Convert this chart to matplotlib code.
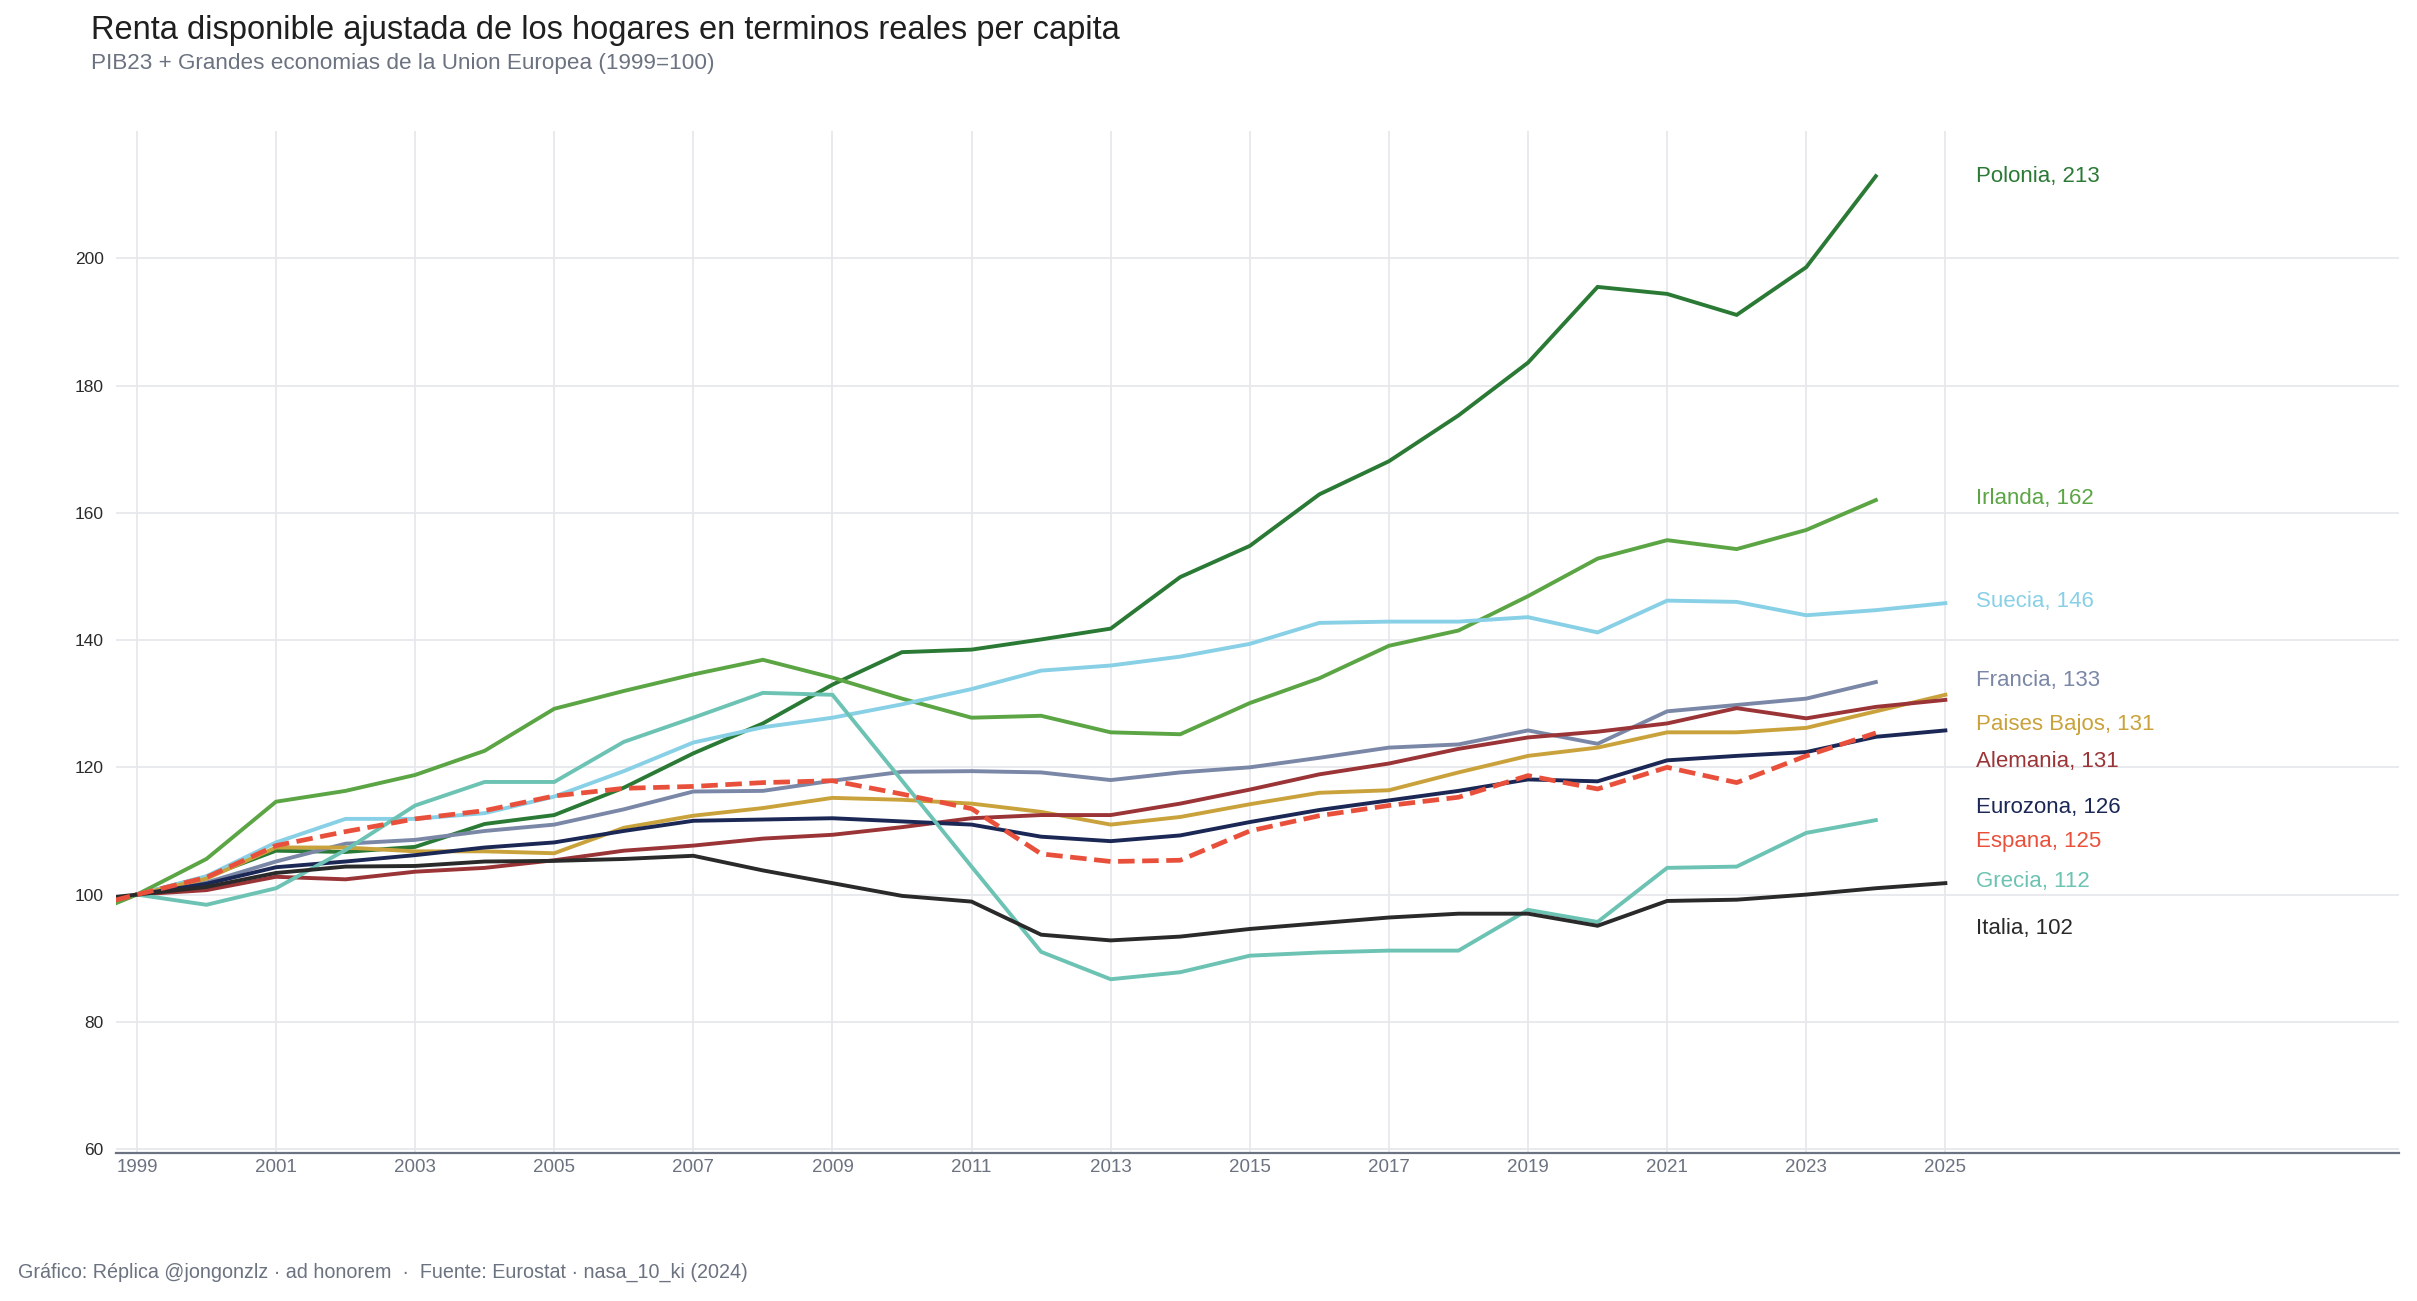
import numpy as np
import matplotlib
matplotlib.use("Agg")
import matplotlib.pyplot as plt

plt.rcParams['font.family'] = ['Liberation Sans', 'DejaVu Sans']

nan = np.nan
years = list(range(1998, 2026))

# indice 1999=100
polonia = [nan, 100, 102.8, 106.9, 106.7, 107.5, 111.1, 112.5, 116.8, 122.2, 126.9, 133.0, 138.1, 138.5,
           140.1, 141.8, 149.9, 154.8, 162.9, 168.1, 175.3, 183.6, 195.5, 194.4, 191.1, 198.6, 212.9, nan]
irlanda = [95.5, 100, 105.6, 114.6, 116.3, 118.8, 122.6, 129.2, 132.0, 134.6, 136.9, 134.1, 130.8, 127.8,
           128.1, 125.5, 125.2, 130.1, 134.0, 139.1, 141.5, 146.9, 152.8, 155.7, 154.3, 157.3, 162.0, nan]
suecia = [nan, 100, 102.9, 108.2, 111.9, 111.9, 112.8, 115.4, 119.4, 123.9, 126.3, 127.8, 129.9, 132.3,
          135.2, 136.0, 137.4, 139.4, 142.7, 142.9, 142.9, 143.6, 141.2, 146.2, 146.0, 143.9, 144.7, 145.8]
francia = [nan, 100, 101.9, 105.2, 108.0, 108.6, 110.0, 111.0, 113.4, 116.2, 116.3, 117.9, 119.3, 119.4,
           119.2, 118.0, 119.2, 120.0, 121.5, 123.1, 123.6, 125.8, 123.7, 128.8, 129.8, 130.8, 133.4, nan]
paises_bajos = [nan, 100, 102.5, 107.4, 107.4, 106.8, 106.8, 106.5, 110.5, 112.4, 113.6, 115.2, 114.9, 114.3,
                113.0, 111.0, 112.2, 114.2, 116.0, 116.4, 119.2, 121.8, 123.1, 125.5, 125.5, 126.2, 128.8, 131.4]
alemania = [nan, 100, 100.7, 102.8, 102.4, 103.6, 104.2, 105.4, 106.9, 107.7, 108.8, 109.4, 110.6, 112.0,
            112.5, 112.5, 114.3, 116.5, 118.9, 120.6, 122.9, 124.7, 125.6, 126.9, 129.3, 127.7, 129.5, 130.6]
eurozona = [nan, 100, 101.7, 104.3, 105.2, 106.2, 107.4, 108.2, 110.0, 111.6, 111.8, 112.0, 111.5, 111.0,
            109.1, 108.4, 109.3, 111.4, 113.3, 114.8, 116.3, 118.1, 117.8, 121.1, 121.8, 122.4, 124.8, 125.8]
espana = [97.2, 100, 102.7, 107.7, 109.9, 111.9, 113.2, 115.5, 116.7, 117.0, 117.6, 117.9, 115.8, 113.5,
          106.4, 105.2, 105.4, 110.0, 112.4, 114.0, 115.3, 118.7, 116.6, 120.0, 117.6, 121.8, 125.4, nan]
grecia = [nan, 100, 98.4, 101.0, 107.0, 114.0, 117.7, 117.7, 124.0, 127.8, 131.7, 131.4, 117.9, 104.4,
          91.0, 86.7, 87.8, 90.4, 90.9, 91.2, 91.2, 97.6, 95.7, 104.2, 104.4, 109.7, 111.7, nan]
italia = [98.8, 100, 101.2, 103.4, 104.4, 104.5, 105.2, 105.3, 105.6, 106.1, 103.8, 101.8, 99.8, 98.9,
          93.7, 92.8, 93.4, 94.6, 95.5, 96.4, 97.0, 97.0, 95.1, 99.0, 99.2, 100.0, 101.0, 101.8]

names = ['Polonia', 'Irlanda', 'Suecia', 'Francia', 'Paises Bajos', 'Alemania',
         'Eurozona', 'Espana', 'Grecia', 'Italia']
series = [polonia, irlanda, suecia, francia, paises_bajos, alemania, eurozona, espana, grecia, italia]
colors = ['#2a7a35', '#5ba544', '#88d0e6', '#7a87a7', '#c9a23b', '#9a3437',
          '#1b2755', '#e9503b', '#6cc3b3', '#2a2a2a']
# posicion vertical de las etiquetas (separadas para que no se pisen)
label_y = [212.8, 162.3, 146.1, 133.7, 126.7, 120.9, 113.7, 108.4, 102.1, 94.6]

fig = plt.figure(figsize=(24.17, 13.01), dpi=100)
ax = fig.add_axes([0.048, 0.1138, 0.9445, 0.7855])

for name, vals, col in zip(names, series, colors):
    if name == 'Espana':
        continue
    ax.plot(years, vals, color=col, lw=2.8, solid_joinstyle='miter', zorder=3)
# Espana encima, discontinua
i = names.index('Espana')
ax.plot(years, series[i], color=colors[i], lw=3.4, dashes=(3.5, 1.6), zorder=4)

for name, vals, col, ly in zip(names, series, colors, label_y):
    arr = np.array(vals, dtype=float)
    last = arr[~np.isnan(arr)][-1]
    ax.text(2025.44, ly, f"{name}, {round(last)}", color=col, fontsize=16,
            ha='left', va='center', clip_on=False)

ax.set_xlim(1998.7, 2031.52)
ax.set_ylim(59.4, 220)
ax.set_xticks(range(1999, 2026, 2))
ax.set_yticks(range(60, 201, 20))
ax.grid(True, color='#e6e8ec', lw=1.3, zorder=0)
ax.set_axisbelow(True)
for s in ['top', 'right', 'left']:
    ax.spines[s].set_visible(False)
ax.spines['bottom'].set_color('#6b7383')
ax.spines['bottom'].set_linewidth(1.6)
ax.tick_params(axis='both', length=0)
ax.tick_params(axis='y', labelsize=12.5, labelcolor='#2b2b2b', pad=9)
ax.tick_params(axis='x', labelsize=13.5, labelcolor='#6b7280', pad=4)

fig.text(91 / 2417, 1 - 31 / 1301, 'Renta disponible ajustada de los hogares en terminos reales per capita',
         fontsize=23.5, color='#1f1f1f', ha='left', va='center')
fig.text(91 / 2417, 1 - 63 / 1301, 'PIB23 + Grandes economias de la Union Europea (1999=100)',
         fontsize=16.2, color='#6b7280', ha='left', va='center')
fig.text(18 / 2417, 1 - 1272 / 1301,
         'Gráfico: Réplica @jongonzlz · ad honorem  ·  Fuente: Eurostat · nasa_10_ki (2024)',
         fontsize=14.2, color='#6b7280', ha='left', va='center')

fig.savefig('out.png', dpi=100)
